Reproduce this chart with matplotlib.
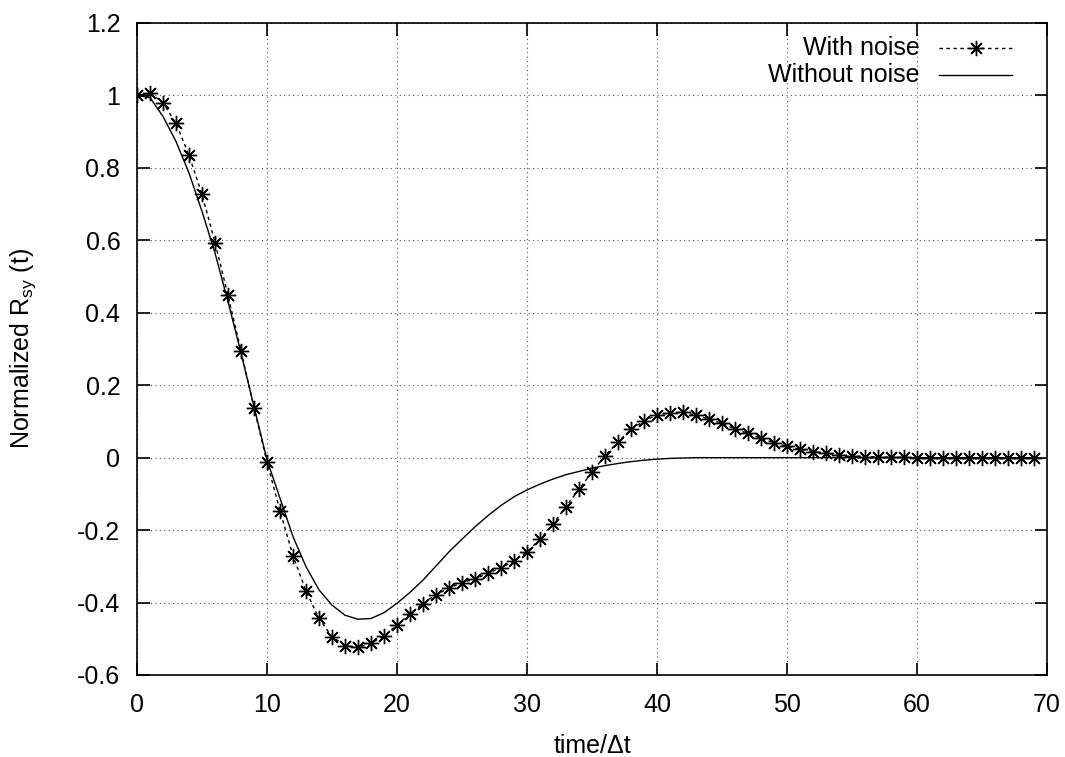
import matplotlib
matplotlib.use("Agg")
import matplotlib.pyplot as plt
from matplotlib.lines import Line2D

plt.rcParams["font.family"] = ["Liberation Sans", "DejaVu Sans"]
plt.rcParams["axes.unicode_minus"] = False
plt.rcParams["mathtext.default"] = "regular"

# Normalized cross-correlation, sampled at integer time steps
t = list(range(70))

with_noise = [
    1.000, 1.007, 0.980, 0.923, 0.835, 0.727, 0.594, 0.448, 0.295, 0.137,
    -0.012, -0.147, -0.271, -0.368, -0.444, -0.494, -0.519, -0.524, -0.512, -0.492,
    -0.462, -0.431, -0.403, -0.378, -0.360, -0.345, -0.335, -0.319, -0.304, -0.285,
    -0.260, -0.225, -0.183, -0.135, -0.087, -0.040, 0.005, 0.044, 0.078, 0.101,
    0.118, 0.124, 0.125, 0.118, 0.106, 0.095, 0.079, 0.067, 0.054, 0.041,
    0.032, 0.023, 0.017, 0.012, 0.007, 0.005, 0.003, 0.002, 0.001, 0.001,
    0.000, 0.000, 0.000, 0.000, 0.000, 0.000, 0.000, 0.000, 0.000, 0.000,
]

without_noise = [
    1.000, 0.994, 0.942, 0.873, 0.786, 0.680, 0.565, 0.431, 0.289, 0.141,
    -0.006, -0.112, -0.218, -0.301, -0.365, -0.407, -0.435, -0.446, -0.444, -0.428,
    -0.402, -0.372, -0.338, -0.299, -0.260, -0.225, -0.191, -0.160, -0.132, -0.108,
    -0.089, -0.073, -0.059, -0.047, -0.038, -0.029, -0.022, -0.016, -0.011, -0.007,
    -0.004, -0.002, -0.001, 0.000, 0.000, 0.000, 0.000, 0.000, 0.000, 0.000,
    0.000, 0.000, 0.000, 0.000, 0.000, 0.000, 0.000, 0.000, 0.000, 0.000,
    0.000, 0.000, 0.000, 0.000, 0.000, 0.000, 0.000, 0.000, 0.000, 0.000,
]

xticks = [0, 10, 20, 30, 40, 50, 60, 70]
yticks = [-0.6, -0.4, -0.2, 0, 0.2, 0.4, 0.6, 0.8, 1.0, 1.2]
ytick_labels = ["-0.6", "-0.4", "-0.2", "0", "0.2", "0.4", "0.6", "0.8", "1", "1.2"]

series_labels = ["With noise", "Without noise"]

FS = 18

fig = plt.figure(figsize=(10.65, 7.57), dpi=100)
ax = fig.add_axes([137 / 1065, 1 - 675 / 757, (1047 - 137) / 1065, (675 - 23) / 757])

star = (8, 2, 0)
ax.plot(t, with_noise, color="black", lw=1.0, ls=(0, (2.5, 2.5)),
        marker=star, ms=11, mew=1.0, zorder=3)
ax.plot(t, without_noise, color="black", lw=1.0, ls="-", zorder=3)

ax.set_xlim(0, 70)
ax.set_ylim(-0.6, 1.2)
ax.set_xticks(xticks)
ax.set_yticks(yticks)
ax.set_yticklabels(ytick_labels)

ax.grid(True, color="#555555", ls=(0, (1, 3)), lw=0.8)
ax.tick_params(direction="in", length=9, width=1.2, top=True, right=True,
               labelsize=FS)
ax.tick_params(axis="x", pad=13)
ax.tick_params(axis="y", pad=12)
for s in ax.spines.values():
    s.set_linewidth(1.2)

ax.set_xlabel("time/\u0394t", fontsize=FS, labelpad=12)
ax.set_ylabel("Normalized R$_{sy}$ (t)", fontsize=FS, labelpad=28)

# Key in the upper right: text right-aligned, sample to its right
tr = ax.transAxes
key_rows = [(0.961, series_labels[0], dict(ls=(0, (2.5, 2.5)), marker=star, ms=11, mew=1.0)),
            (0.920, series_labels[1], dict(ls="-"))]
for yk, label, style in key_rows:
    ax.text(0.860, yk, label, transform=tr, ha="right", va="center", fontsize=FS)
    ax.add_line(Line2D([0.881, 0.962], [yk, yk], transform=tr, color="black",
                       lw=1.0, ls=style["ls"]))
    if "marker" in style:
        ax.add_line(Line2D([0.9215], [yk], transform=tr, color="black",
                           marker=style["marker"], ms=style["ms"], mew=style["mew"], ls="none"))

fig.savefig("out.png", dpi=100)
